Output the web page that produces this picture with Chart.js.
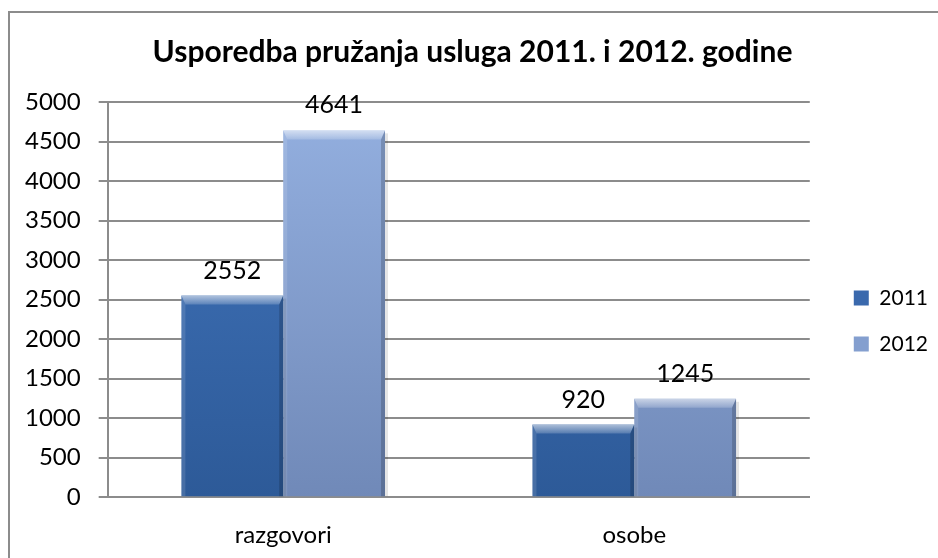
<!DOCTYPE html>
<html>
<head>
<meta charset="utf-8">
<script src="https://cdn.jsdelivr.net/npm/chart.js@4/dist/chart.umd.min.js"></script>
<style>
  html, body { margin: 0; padding: 0; background: #ffffff; }
  #wrap { position: relative; width: 938px; height: 558px; overflow: hidden; }
  #frame { position: absolute; left: 8px; top: 11px; width: 940px; height: 560px; border: 2px solid #8c8c8c; box-sizing: border-box; }
  canvas { position: absolute; left: 0; top: 0; }
</style>
</head>
<body>
<div id="wrap">
  <div id="frame"></div>
  <canvas id="c" width="938" height="558"></canvas>
</div>
<script>
const titleText = 'Usporedba pružanja usluga 2011. i 2012. godine';
const categories = ['razgovori', 'osobe'];
const seriesNames = ['2011', '2012'];
const values2011 = [2552, 920];
const values2012 = [4641, 1245];
const yTicks = [0, 500, 1000, 1500, 2000, 2500, 3000, 3500, 4000, 4500, 5000];

const FONT = 'Lato, "Open Sans", sans-serif';

const palettes = [
  { top: '#4275bd', bottom: '#2d5a98', legend: '#3a69ad' },
  { top: '#94b0e0', bottom: '#7089b8', legend: '#849fcf' }
];

function faceGradient(ctx, idx) {
  const chart = ctx.chart;
  const area = chart.chartArea;
  if (!area) return palettes[idx].top;
  const g = chart.ctx.createLinearGradient(0, area.top, 0, area.bottom);
  g.addColorStop(0, palettes[idx].top);
  g.addColorStop(1, palettes[idx].bottom);
  return g;
}

const bevelPlugin = {
  id: 'bevel',
  afterDatasetsDraw(chart) {
    const ctx = chart.ctx;
    chart.data.datasets.forEach((ds, di) => {
      const meta = chart.getDatasetMeta(di);
      meta.data.forEach((bar) => {
        const x0 = bar.x - bar.width / 2, x1 = bar.x + bar.width / 2;
        const y0 = bar.y, yb = bar.base;
        const h = yb - y0;
        const bt = Math.min(9, h / 2), bs = 4;
        ctx.save();
        ctx.beginPath();
        ctx.moveTo(x0, y0); ctx.lineTo(x1, y0); ctx.lineTo(x1 - bs, y0 + bt); ctx.lineTo(x0 + bs, y0 + bt); ctx.closePath();
        const gt = ctx.createLinearGradient(0, y0, 0, y0 + bt);
        gt.addColorStop(0, 'rgba(255,255,255,0.6)');
        gt.addColorStop(1, 'rgba(255,255,255,0.18)');
        ctx.fillStyle = gt; ctx.fill();
        ctx.beginPath();
        ctx.moveTo(x0, y0); ctx.lineTo(x0 + bs, y0 + bt); ctx.lineTo(x0 + bs, yb); ctx.lineTo(x0, yb); ctx.closePath();
        ctx.fillStyle = 'rgba(255,255,255,0.12)'; ctx.fill();
        ctx.beginPath();
        ctx.moveTo(x1, y0); ctx.lineTo(x1 - bs, y0 + bt); ctx.lineTo(x1 - bs, yb); ctx.lineTo(x1, yb); ctx.closePath();
        ctx.fillStyle = 'rgba(0,0,0,0.18)'; ctx.fill();
        ctx.fillStyle = 'rgba(0,0,0,0.10)';
        ctx.fillRect(x1, y0 + 3, 3, h - 3);
        ctx.restore();
      });
    });
  }
};

const dataLabelPlugin = {
  id: 'dataLabels',
  afterDatasetsDraw(chart) {
    const ctx = chart.ctx;
    ctx.save();
    ctx.font = '25px ' + FONT;
    ctx.fillStyle = '#000000';
    ctx.textAlign = 'center';
    ctx.textBaseline = 'middle';
    chart.data.datasets.forEach((ds, di) => {
      const meta = chart.getDatasetMeta(di);
      meta.data.forEach((bar, i) => {
        ctx.fillText(String(ds.data[i]), bar.x, bar.y - 25);
      });
    });
    ctx.restore();
  }
};

const LEGEND_GAP = 19;
const LEGEND_SHIFT_Y = 28;
const legendGapPlugin = {
  id: 'legendGap',
  beforeLayout(chart) {
    const lg = chart.legend;
    if (lg && !lg._gapWrapped) {
      const orig = lg.fit;
      lg.fit = function () { orig.call(this); this.width += LEGEND_GAP; };
      lg._gapWrapped = true;
    }
  },
  afterLayout(chart) {
    const lg = chart.legend;
    if (lg) {
      lg.left += LEGEND_GAP;
      lg.top += LEGEND_SHIFT_Y;
      lg.bottom += LEGEND_SHIFT_Y;
    }
  }
};

new Chart(document.getElementById('c'), {
  type: 'bar',
  data: {
    labels: categories,
    datasets: [
      { label: seriesNames[0], data: values2011, backgroundColor: (c) => faceGradient(c, 0), borderWidth: 0 },
      { label: seriesNames[1], data: values2012, backgroundColor: (c) => faceGradient(c, 1), borderWidth: 0 }
    ]
  },
  options: {
    responsive: false,
    animation: false,
    devicePixelRatio: 1,
    layout: { padding: { left: 7, right: 0, top: 12, bottom: -16 } },
    datasets: { bar: { categoryPercentage: 0.58, barPercentage: 1.0 } },
    scales: {
      x: {
        grid: { display: false, drawTicks: false },
        border: { display: true, color: '#8c8c8c', width: 2 },
        ticks: { font: { family: FONT, size: 24 }, color: '#000000', padding: 24 }
      },
      y: {
        min: 0, max: 5000,
        afterBuildTicks(scale) { scale.ticks = yTicks.map(v => ({ value: v })); },
        grid: { color: '#8c8c8c', lineWidth: 2, tickLength: 9, drawTicks: true },
        border: { display: true, color: '#8c8c8c', width: 2 },
        ticks: {
          font: { family: FONT, size: 24 }, color: '#000000', padding: 18,
          callback: (v) => String(v)
        }
      }
    },
    plugins: {
      title: {
        display: true,
        text: titleText,
        color: '#000000',
        font: { family: FONT, size: 30, weight: 'bold' },
        padding: { top: 22, bottom: 32 }
      },
      legend: {
        position: 'right',
        labels: {
          boxWidth: 15, boxHeight: 15,
          padding: 25,
          color: '#000000',
          font: { family: FONT, size: 21 },
          generateLabels(chart) {
            return chart.data.datasets.map((ds, i) => ({
              text: ds.label, fillStyle: palettes[i].legend, strokeStyle: palettes[i].legend,
              lineWidth: 0, hidden: false, datasetIndex: i, fontColor: '#000000'
            }));
          }
        }
      },
      tooltip: { enabled: false }
    }
  },
  plugins: [bevelPlugin, dataLabelPlugin, legendGapPlugin]
});
</script>
</body>
</html>
